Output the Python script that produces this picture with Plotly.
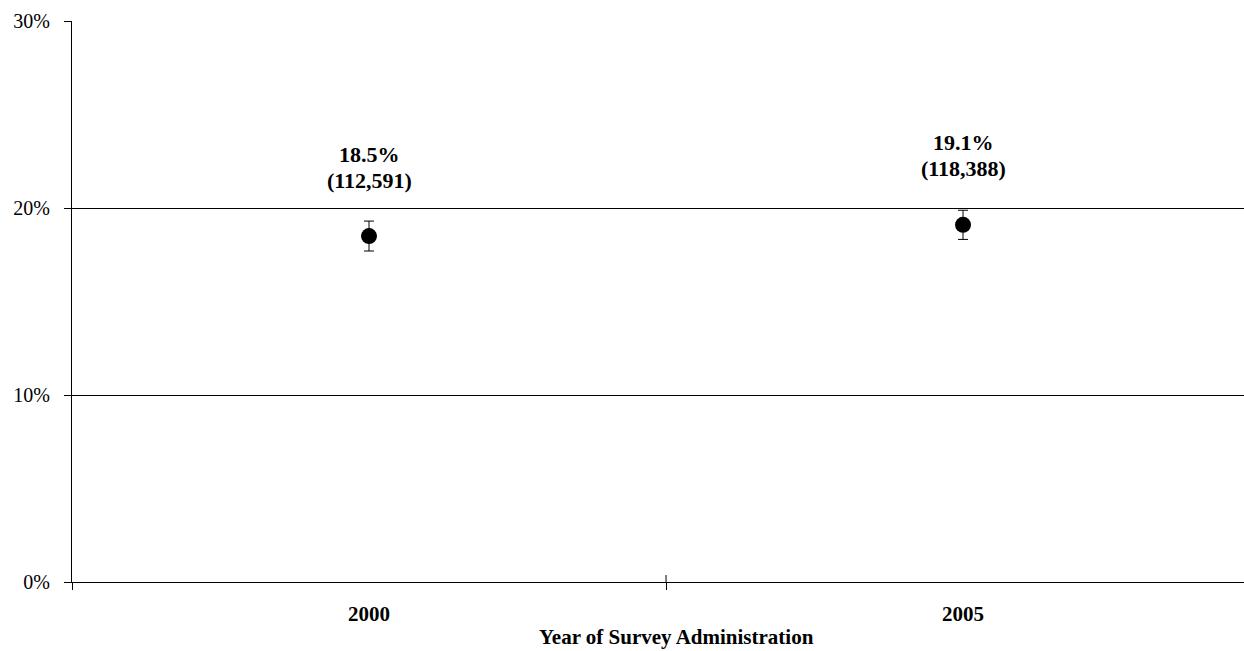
import plotly.graph_objects as go

years = ["2000", "2005"]
pct = [18.5, 19.1]
err = [0.8, 0.78]
counts = ["(112,591)", "(118,388)"]
pct_labels = ["18.5%", "19.1%"]
y_ticks = [0, 10, 20, 30]
y_tick_labels = ["0%", "10%", "20%", "30%"]

FONT = "Liberation Serif, Times New Roman, serif"

fig = go.Figure()
fig.add_trace(go.Scatter(
    x=years, y=pct, mode="markers",
    marker=dict(color="black", size=16),
    error_y=dict(type="data", array=err, visible=True, color="black", thickness=1, width=5),
    showlegend=False, hoverinfo="skip",
))

for i, (p, pl, c) in enumerate(zip(pct, pct_labels, counts)):
    fig.add_annotation(x=i, y=p, text="<b>%s</b>" % pl, showarrow=False,
                       yshift=82, yanchor="middle", xanchor="center",
                       font=dict(family=FONT, size=22, color="black"))
    fig.add_annotation(x=i, y=p, text="<b>%s</b>" % c, showarrow=False,
                       yshift=56, yanchor="middle", xanchor="center",
                       font=dict(family=FONT, size=22, color="black"))

fig.add_annotation(xref="paper", yref="paper", x=0.516, y=-0.098,
                   text="<b>Year of Survey Administration</b>", showarrow=False,
                   xanchor="center", yanchor="middle",
                   font=dict(family=FONT, size=21, color="black"))

# inner part of crossing tick at category boundary
fig.add_shape(type="line", xref="x", yref="y", x0=0.5, x1=0.5, y0=0, y1=0.374,
              line=dict(color="black", width=1))

fig.update_layout(
    width=1244, height=651,
    margin=dict(l=72, r=0, t=21, b=69),
    plot_bgcolor="white", paper_bgcolor="white",
    font=dict(family=FONT, size=20, color="black"),
    xaxis=dict(
        type="category", range=[-0.5, 1.473],
        showgrid=False, showline=True, linecolor="black", linewidth=1,
        ticks="outside", tickson="boundaries", ticklen=7, tickcolor="black",
        tickfont=dict(family=FONT, size=21, color="black"),
        tickvals=years, ticktext=["<b>%s</b>" % y for y in years],
        ticklabelstandoff=13,
        zeroline=False,
    ),
    yaxis=dict(
        range=[0, 30], tickvals=y_ticks, ticktext=y_tick_labels,
        showgrid=True, gridcolor="black", gridwidth=1,
        showline=True, linecolor="black", linewidth=1,
        ticks="outside", ticklen=7, tickcolor="black",
        tickfont=dict(family=FONT, size=20, color="black"),
        ticklabelstandoff=10,
        zeroline=False,
    ),
)

fig.write_html("out.html", config={"displayModeBar": False},
               post_script="document.body.style.margin='0';document.body.style.padding='0';")
